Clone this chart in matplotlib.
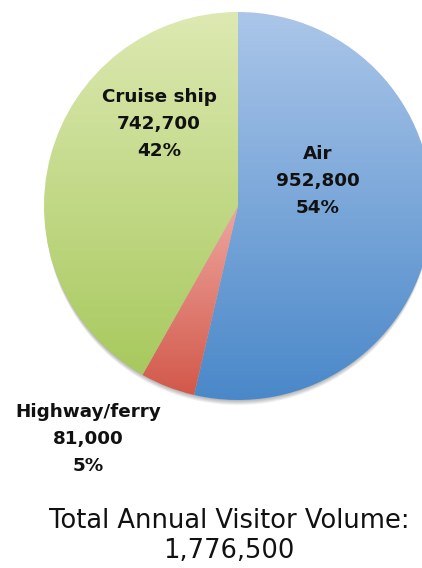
import matplotlib
matplotlib.use("Agg")
import matplotlib.pyplot as plt
import numpy as np
from matplotlib.colors import LinearSegmentedColormap
from matplotlib.patches import Circle

W, H = 422, 568

labels = ["Air", "Highway/ferry", "Cruise ship"]
visitors = [952800, 81000, 742700]
shares = ["54%", "5%", "42%"]
total = "1,776,500"

top_colors = ["#abc6e9", "#eea69f", "#dde9b2"]
bottom_colors = ["#4a88c9", "#d2584a", "#a8c95e"]

fig = plt.figure(figsize=(W / 100, H / 100), dpi=100)
ax = fig.add_axes([0, 0, 1, 1])

cx, cy, r = 238, H - 206, 194

# soft shadow under the pie
for k in range(5):
    ax.add_patch(Circle((cx, cy - 2 - k), r - 1, color="#000000",
                        alpha=0.06, lw=0, zorder=0))

wedges, _ = ax.pie(visitors, startangle=90, counterclock=False, center=(cx, cy),
                   radius=r, frame=True, wedgeprops=dict(lw=0, fc="none"))

grad = np.linspace(0, 1, 256).reshape(-1, 1)
for w, c0, c1 in zip(wedges, top_colors, bottom_colors):
    bb = w.get_path().get_extents(w.get_transform() - ax.transData)
    cmap = LinearSegmentedColormap.from_list("g", [c0, c1])
    im = ax.imshow(grad, cmap=cmap, aspect="auto", interpolation="bilinear",
                   extent=(bb.x0, bb.x1, bb.y0, bb.y1), origin="upper", zorder=1)
    im.set_clip_path(w)

lab_font = dict(fontsize=13.2, fontweight="bold", family="DejaVu Sans",
                ha="center", va="center", linespacing=1.62, color="#111111")
ax.text(318, H - 181, f"{labels[0]}\n{visitors[0]:,}\n{shares[0]}", zorder=3, **lab_font)
ax.text(159, H - 124, f"{labels[2]}\n{visitors[2]:,}\n{shares[2]}", zorder=3, **lab_font)
ax.text(88, H - 439, f"{labels[1]}\n{visitors[1]:,}\n{shares[1]}", zorder=3, **lab_font)

ax.text(229, H - 536, f"Total Annual Visitor Volume:\n{total}", fontsize=18.5,
        family="DejaVu Sans", ha="center", va="center", linespacing=1.2, color="#111111")

ax.set_xlim(0, W)
ax.set_ylim(0, H)
ax.set_aspect("auto")
ax.axis("off")
fig.savefig("out.png", dpi=100)
